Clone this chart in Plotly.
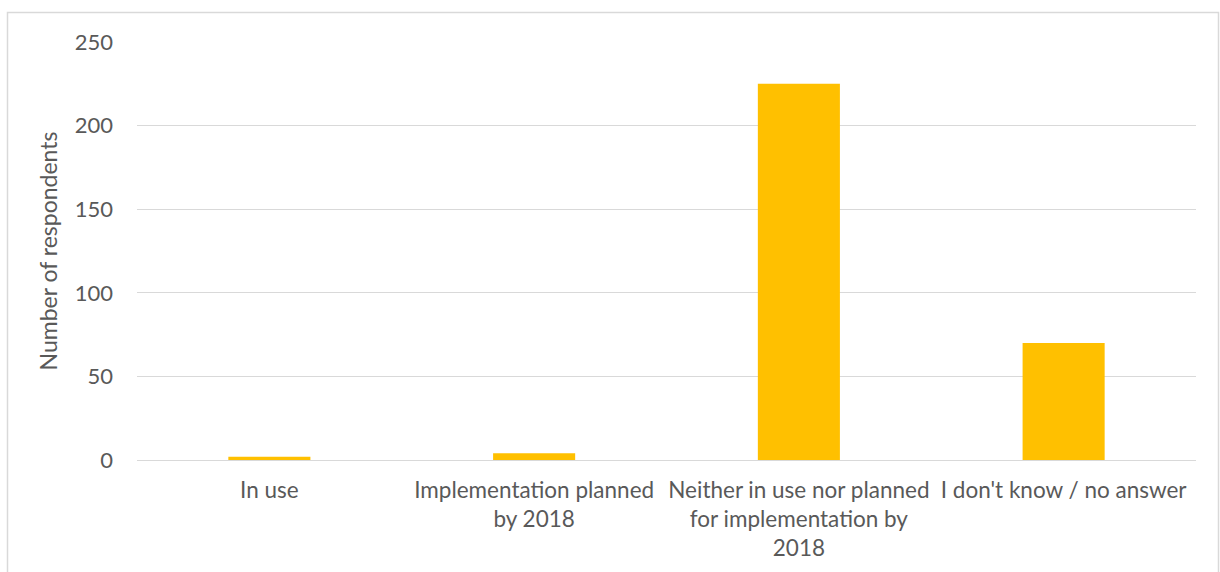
import plotly.graph_objects as go

categories = [
    "In use",
    "Implementation planned<br>by 2018",
    "Neither in use nor planned<br>for implementation by<br>2018",
    "I don't know / no answer",
]
respondents = [2, 4, 225, 70]
y_ticks = [0, 50, 100, 150, 200, 250]

W, H = 1220, 572
ml, mr, mt, mb = 137, 24, 42, 112
pw = W - ml - mr
ph = H - mt - mb

fig = go.Figure(
    go.Bar(
        x=categories,
        y=respondents,
        marker=dict(color="#FFC000", line=dict(width=0)),
    )
)

font_family = "Lato, Carlito, sans-serif"
text_color = "#595959"
fs = 22.5

fig.update_layout(
    width=W,
    height=H,
    margin=dict(l=ml, r=mr, t=mt, b=mb),
    paper_bgcolor="white",
    plot_bgcolor="white",
    bargap=0.69,
    showlegend=False,
    font=dict(family=font_family, size=fs, color=text_color),
    xaxis=dict(
        showgrid=False,
        showline=False,
        ticks="",
        tickfont=dict(size=fs, color=text_color),
        ticklabelstandoff=14,
    ),
    yaxis=dict(
        range=[0, 250],
        tickvals=y_ticks,
        showgrid=True,
        gridcolor="#D9D9D9",
        gridwidth=1,
        zeroline=True,
        zerolinecolor="#D9D9D9",
        zerolinewidth=1,
        showline=False,
        ticks="",
        ticklabelstandoff=23,
        tickfont=dict(size=fs - 0.5, color=text_color),
        title=dict(text="Number of respondents", font=dict(size=23, color=text_color), standoff=10),
    ),
)

# Chart frame around the whole figure area
fig.add_shape(
    type="rect",
    xref="paper", yref="paper",
    x0=(7.5 - ml) / pw, x1=(1218.5 - ml) / pw,
    y0=-(H + 20 - mt - ph) / ph, y1=1 + (mt - 12.5) / ph,
    line=dict(color="#D9D9D9", width=1.5),
    fillcolor="rgba(0,0,0,0)",
    layer="below",
)

fig.write_html("out.html")
